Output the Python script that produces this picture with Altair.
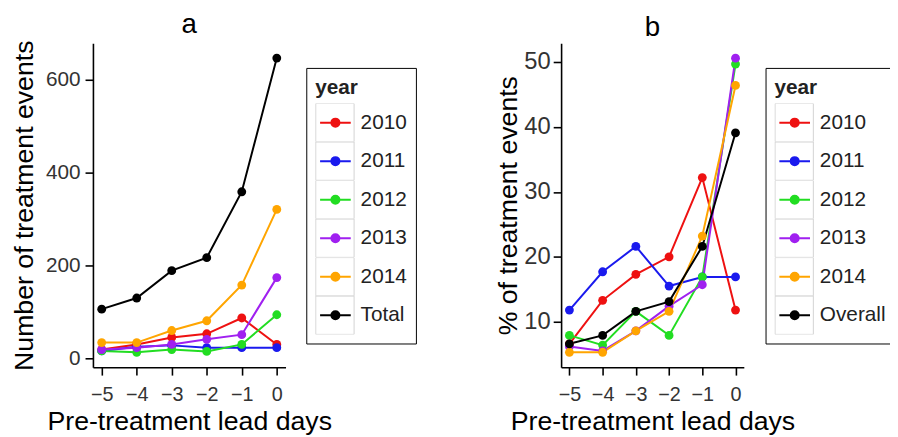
import altair as alt
import pandas as pd

days = [-5, -4, -3, -2, -1, 0]
series_a = ["2010", "2011", "2012", "2013", "2014", "Total"]
series_b = ["2010", "2011", "2012", "2013", "2014", "Overall"]
colors = ["#ee1111", "#1a1aee", "#22dd22", "#a020f0", "#ffa500", "#000000"]

counts_2010 = [19, 30, 45, 53, 87, 30]
counts_2011 = [16, 25, 28, 23, 23, 23]
counts_2012 = [16, 13, 19, 15, 30, 94]
counts_2013 = [19, 23, 30, 41, 51, 174]
counts_2014 = [34, 34, 60, 81, 158, 321]
counts_total = [106, 130, 189, 217, 359, 647]

pct_2010 = [6.6, 13.3, 17.3, 20.0, 32.2, 11.8]
pct_2011 = [11.8, 17.7, 21.6, 15.5, 16.9, 16.9]
pct_2012 = [7.9, 6.4, 11.6, 7.9, 16.9, 49.7]
pct_2013 = [6.2, 5.5, 8.6, 12.4, 15.7, 50.6]
pct_2014 = [5.3, 5.3, 8.6, 11.6, 23.2, 46.4]
pct_overall = [6.6, 7.9, 11.6, 13.1, 21.6, 39.1]

yticks_a = [0, 200, 400, 600]
yticks_b = [10, 20, 30, 40, 50]

FONT = "Liberation Sans"
SYMBOL = "M-0.8,0L0.8,0M-0.21,0A0.21,0.21,0,1,1,0.21,0A0.21,0.21,0,1,1,-0.21,0Z"
KEYBOX = "M-1,-1H1V1H-1Z"


def long_frame(names, lists):
    rows = []
    for k, (name, vals) in enumerate(zip(names, lists)):
        for d, v in zip(days, vals):
            rows.append({"day": d, "value": v, "year": name, "ord": k})
    return pd.DataFrame(rows)


df_a = long_frame(series_a, [counts_2010, counts_2011, counts_2012, counts_2013, counts_2014, counts_total])
df_b = long_frame(series_b, [pct_2010, pct_2011, pct_2012, pct_2013, pct_2014, pct_overall])

LEGEND_COMMON = dict(
    title="year", orient="none", legendY=25, symbolSize=1505, symbolOpacity=1,
    labelFontSize=21, labelFont=FONT, titleFontSize=21, titleFont=FONT,
    titleFontWeight="bold", padding=9, rowPadding=0, clipHeight=38.8,
    labelOffset=5, titlePadding=6,
)


def panel(df, names, title, ytitle, ydomain, yticks, width, legend_x,
          ylabel_size, ylabel_pad, ytitle_pad):
    legend = alt.Legend(
        legendX=legend_x, symbolType=SYMBOL, symbolStrokeWidth=2,
        labelColor="#222222", titleColor="#222222",
        strokeColor="black", fillColor="white", cornerRadius=0, **LEGEND_COMMON,
    )
    label_lookup = "[" + ",".join("'%s'" % n for n in names) + "][datum.value]"
    keys = alt.Legend(
        legendX=legend_x, symbolStrokeWidth=1, symbolFillColor="transparent",
        symbolStrokeColor="#d2d2d2", labelOpacity=0, titleOpacity=0,
        labelExpr=label_lookup, **LEGEND_COMMON,
    )
    color = alt.Color("year:N", scale=alt.Scale(domain=names, range=colors), sort=names, legend=legend)
    base = alt.Chart(df).encode(
        x=alt.X("day:Q", scale=alt.Scale(domain=[-5.25, 0.25], nice=False, zero=False),
                axis=alt.Axis(values=days, title="Pre-treatment lead days", format="d",
                              labelPadding=10, titlePadding=4)),
        y=alt.Y("value:Q", scale=alt.Scale(domain=ydomain, nice=False, zero=False),
                axis=alt.Axis(values=yticks, title=ytitle, labelFontSize=ylabel_size,
                              labelPadding=ylabel_pad, titlePadding=ytitle_pad)),
    )
    lines = base.mark_line(strokeWidth=2).encode(color=color, order=alt.Order("day:Q"))
    points = base.mark_point(filled=True, size=80, opacity=1).encode(
        color=color, order=alt.Order("ord:Q"))
    key_layer = base.mark_point(filled=False, opacity=0, color="#d2d2d2", strokeWidth=1).encode(
        shape=alt.Shape("ord:N", scale=alt.Scale(domain=list(range(len(names))),
                                                 range=[KEYBOX] * len(names)),
                        legend=keys))
    return alt.layer(lines, points, key_layer).properties(
        width=width, height=328,
        title=alt.TitleParams(title, fontSize=28, font=FONT, fontWeight="normal",
                              anchor="middle", frame="group", color="black", offset=1),
    )


pa = panel(df_a, series_a, "a", "Number of treatment events", [-19, 679], yticks_a, 195, 216,
           21, 5, 7)
pb = panel(df_b, series_b, "b", "% of treatment events", [3.0, 52.9], yticks_b, 185, 207,
           24, 3, 1)

chart = alt.hconcat(pa, pb, spacing=279, bounds="flush").resolve_scale(
    color="independent", shape="independent"
).properties(
    padding={"left": 2, "top": 0, "right": -6, "bottom": 0}
).configure_view(stroke=None).configure_axis(
    grid=False, domainColor="black", domainWidth=1.6, tickColor="black", tickWidth=1.6,
    tickSize=8, labelFontSize=20, labelFont=FONT, labelColor="#333333",
    titleFontSize=27, titleFont=FONT, titleFontWeight="normal", titleColor="black",
)

chart.save("out.html", embed_options={"renderer": "svg", "actions": False})
